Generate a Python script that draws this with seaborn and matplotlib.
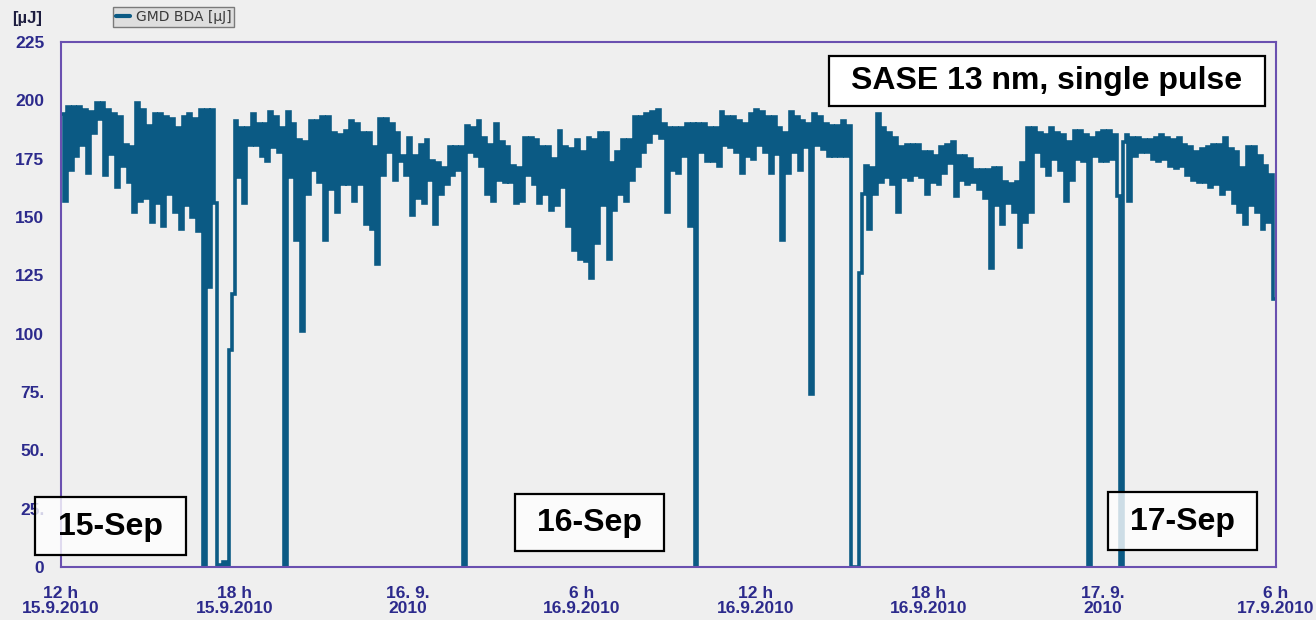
import numpy as np
import pandas as pd
import matplotlib
matplotlib.use("Agg")
import matplotlib.pyplot as plt
import seaborn as sns
from matplotlib.patches import Rectangle
from matplotlib.lines import Line2D
from matplotlib.ticker import FixedLocator, MultipleLocator

# ---------------- data ----------------
# GMD BDA pulse energy [µJ]; two readings per 12-minute interval,
# starting 12 h on 15.9.2010
energy_first = [
    194, 197, 197, 197, 196, 195, 199, 199, 196, 194, 193, 181, 180, 199, 196, 189, 194, 194, 193, 192,
    188, 193, 194, 192, 196, 196, 196, 1, 2, 93, 191, 188, 188, 194, 190, 190, 195, 193, 188, 195,
    190, 183, 182, 191, 191, 193, 193, 186, 185, 187, 191, 190, 186, 186, 180, 192, 192, 190, 186, 176,
    184, 176, 181, 183, 174, 173, 171, 180, 180, 180, 189, 188, 191, 184, 181, 190, 182, 180, 172, 171,
    184, 184, 183, 180, 180, 175, 187, 180, 179, 183, 178, 184, 183, 186, 186, 173, 178, 183, 183, 193,
    193, 194, 195, 196, 190, 188, 188, 188, 190, 190, 190, 190, 188, 188, 195, 193, 193, 191, 190, 194,
    196, 195, 193, 193, 188, 186, 195, 193, 191, 190, 194, 193, 190, 189, 189, 191, 189, 0, 126, 172,
    171, 194, 188, 186, 184, 180, 181, 181, 181, 178, 178, 176, 180, 181, 182, 176, 176, 175, 170, 170,
    170, 171, 171, 165, 164, 165, 173, 188, 188, 186, 185, 188, 186, 185, 182, 187, 187, 185, 184, 186,
    187, 187, 185, 0, 185, 184, 184, 183, 183, 184, 185, 184, 183, 184, 181, 180, 178, 179, 180, 181,
    181, 184, 179, 178, 171, 180, 180, 176, 172, 168,
]
energy_second = [
    157, 170, 176, 181, 169, 186, 192, 168, 177, 163, 172, 165, 152, 157, 158, 148, 156, 146, 160, 152,
    145, 155, 150, 144, 0, 120, 156, 0, 1, 117, 167, 156, 181, 181, 176, 174, 180, 178, 0, 167,
    140, 101, 160, 170, 165, 140, 162, 152, 164, 164, 157, 164, 147, 145, 130, 168, 178, 166, 174, 168,
    151, 158, 156, 166, 147, 160, 164, 168, 170, 0, 178, 176, 172, 160, 157, 166, 165, 165, 156, 157,
    168, 164, 156, 160, 153, 155, 163, 146, 136, 132, 131, 124, 139, 155, 132, 153, 160, 157, 166, 172,
    178, 182, 186, 184, 152, 170, 169, 176, 146, 0, 178, 174, 174, 172, 181, 180, 178, 169, 176, 175,
    181, 178, 169, 177, 140, 169, 178, 170, 180, 74, 181, 179, 176, 176, 176, 176, 0, 0, 160, 145,
    160, 165, 167, 164, 152, 167, 166, 168, 167, 160, 165, 164, 169, 173, 159, 166, 164, 165, 162, 158,
    128, 155, 147, 156, 152, 137, 148, 152, 178, 172, 168, 175, 170, 157, 166, 175, 174, 0, 176, 174,
    174, 175, 159, 182, 157, 176, 178, 178, 175, 174, 175, 172, 171, 172, 168, 166, 165, 165, 163, 164,
    160, 162, 156, 152, 147, 155, 152, 145, 148, 115,
]
interval_hours = 0.2

x_tick_hours = [0, 6, 12, 18, 24, 30, 36, 42]
x_tick_labels = ["12 h\n15.9.2010", "18 h\n15.9.2010", "16. 9.\n2010", "6 h\n16.9.2010",
                 "12 h\n16.9.2010", "18 h\n16.9.2010", "17. 9.\n2010", "6 h\n17.9.2010"]
y_tick_values = [0, 25, 50, 75, 100, 125, 150, 175, 200, 225]
y_tick_labels = ["0", "25.", "50.", "75.", "100", "125", "150", "175", "200", "225"]
day_labels = ["15-Sep", "16-Sep", "17-Sep"]
note_text = "SASE 13 nm, single pulse"
series_name = "GMD BDA [µJ]"
unit_label = "[µJ]"

# ---------------- build table ----------------
values = np.column_stack([energy_first, energy_second]).ravel().astype(float)
half = interval_hours / 2
hours = np.arange(len(values)) * half
hours = np.append(hours, len(values) * half)
values = np.append(values, values[-1])
df = pd.DataFrame({"hours": hours, "energy": values})

# ---------------- style ----------------
W, H = 1316, 620
BG = "#efefef"
LINE = "#0b5a84"
AXC = "#6a50b0"
TXT = "#2c2a8c"

sns.set_style("white")
plt.rcParams["font.family"] = ["Liberation Sans", "DejaVu Sans"]

fig = plt.figure(figsize=(W / 100, H / 100), dpi=100, facecolor=BG)
ax = fig.add_axes([61 / W, 53 / H, 1215 / W, 525 / H])
ax.set_facecolor(BG)

sns.lineplot(data=df, x="hours", y="energy", ax=ax, color=LINE, linewidth=2.6,
             drawstyle="steps-post", estimator=None, legend=False,
             solid_joinstyle="miter")

ax.set_xlim(0, 42)
ax.set_ylim(0, 225)
ax.set_xlabel("")
ax.set_ylabel("")

ax.xaxis.set_major_locator(FixedLocator(x_tick_hours))
ax.set_xticklabels(x_tick_labels)
ax.xaxis.set_minor_locator(MultipleLocator(1))
ax.yaxis.set_major_locator(FixedLocator(y_tick_values))
ax.set_yticklabels(y_tick_labels)
ax.yaxis.set_minor_locator(MultipleLocator(12.5))

ax.tick_params(axis="both", which="major", direction="out", length=8, width=1.3,
               color=AXC, labelcolor=TXT, labelsize=12.5)
ax.tick_params(axis="both", which="minor", direction="out", length=3, width=1.3, color=AXC)
ax.tick_params(axis="x", which="major", pad=6)
ax.tick_params(axis="y", which="major", pad=4)
for lab in ax.get_xticklabels():
    lab.set_fontweight("bold")
    lab.set_linespacing(0.95)
for lab in ax.get_yticklabels():
    lab.set_fontweight("bold")

for s in ax.spines.values():
    s.set_visible(True)
    s.set_color(AXC)
    s.set_linewidth(1.5)

# unit label
fig.text(12 / W, 1 - 18 / H, unit_label, fontsize=12, fontweight="bold",
         color="#1e1e40", ha="left", va="center")

# legend box
handle = Line2D([], [], color=LINE, linewidth=3)
leg = ax.legend([handle], [series_name], loc="upper left",
                bbox_to_anchor=(113 / W, 1 - 7 / H), bbox_transform=fig.transFigure,
                frameon=True, fancybox=False, facecolor="#dedede", edgecolor="#7a7a7a",
                framealpha=1, handlelength=1.0, handletextpad=0.4, borderpad=0.22,
                borderaxespad=0, prop={"family": "DejaVu Sans", "size": 10})
leg.get_frame().set_linewidth(1.0)
for t in leg.get_texts():
    t.set_color("#3a3a3a")


def box(x0, y0, x1, y1, alpha):
    r = Rectangle((x0 / W, 1 - y1 / H), (x1 - x0) / W, (y1 - y0) / H,
                  transform=fig.transFigure, facecolor="white", alpha=alpha,
                  edgecolor="none", zorder=5)
    fig.add_artist(r)
    e = Rectangle((x0 / W, 1 - y1 / H), (x1 - x0) / W, (y1 - y0) / H,
                  transform=fig.transFigure, facecolor="none",
                  edgecolor="black", linewidth=1.6, zorder=6)
    fig.add_artist(e)


def label(cx, cy, text):
    fig.text(cx / W, 1 - cy / H, text, fontsize=23, fontweight="bold", color="black",
             ha="center", va="center", zorder=7)


box(829, 56, 1265, 106, 1.0)
label(1047, 81, note_text)

day_boxes = [(35, 497, 186, 555), (515, 494, 664, 551), (1108, 492, 1257, 550)]
for (x0, y0, x1, y1), txt in zip(day_boxes, day_labels):
    box(x0, y0, x1, y1, 0.8)
    label((x0 + x1) / 2, (y0 + y1) / 2 + 1, txt)

fig.savefig("out.png", dpi=100, facecolor=BG)
